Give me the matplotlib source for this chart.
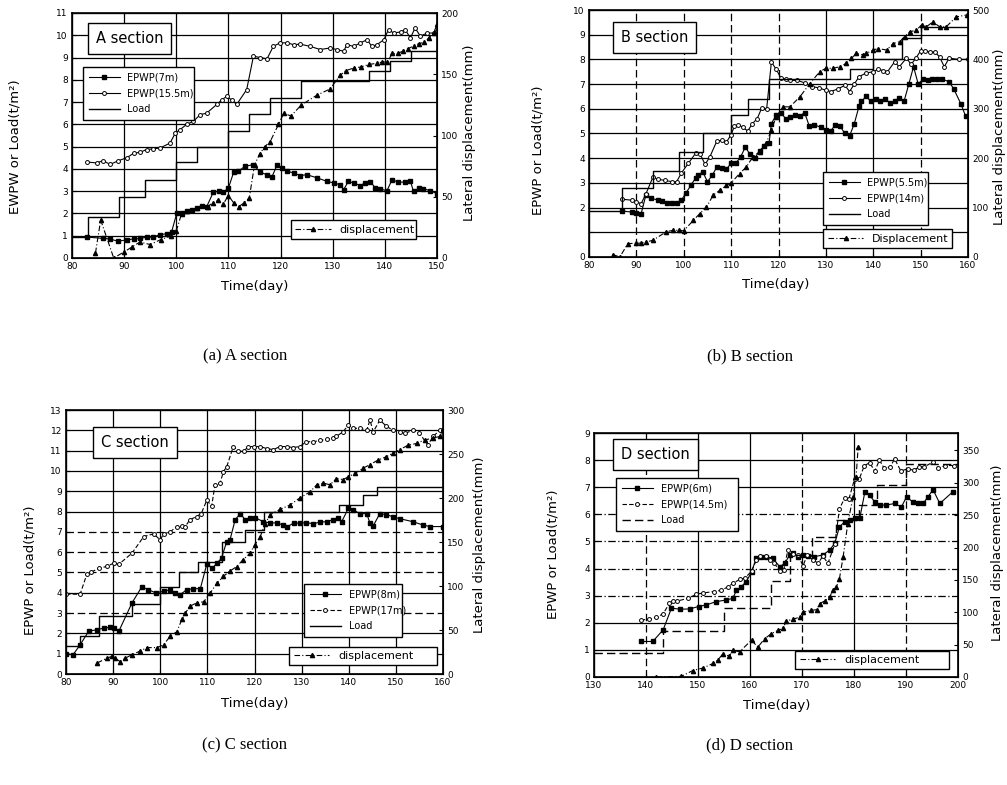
import matplotlib
matplotlib.use('Agg')
import matplotlib.pyplot as plt

plt.rcParams['font.family'] = ['DejaVu Sans']

# ---------------- Panel A ----------------
a_e1_days = [82.8, 86.0, 87.3, 88.9, 90.5, 91.8, 93.1, 94.3, 95.6, 96.9, 98.2, 99.1, 100.1, 101, 102, 103, 103.9,
             104.9, 105.8, 107.1, 108.1, 109, 110, 111, 111.9, 113.2, 114.8, 116.1, 117.4, 118.3, 119.3, 120.2,
             121.2, 122.5, 123.8, 125, 127, 128.9, 130.2, 131.4, 132.1, 133, 134, 135.3, 136.2, 137.2, 138.2,
             139.1, 140.4, 141.4, 142.6, 143.9, 144.9, 145.5, 146.5, 147.4, 148.7, 150]
a_e1_vals = [0.94, 0.88, 0.85, 0.75, 0.82, 0.85, 0.88, 0.93, 0.94, 1.05, 1.09, 1.17, 2.02, 2.02, 2.1, 2.17, 2.25,
             2.35, 2.29, 2.95, 3.0, 2.95, 3.14, 3.85, 3.9, 4.12, 4.19, 3.85, 3.74, 3.62, 4.16, 4.04,
             3.9, 3.82, 3.7, 3.74, 3.6, 3.44, 3.37, 3.29, 3.07, 3.44, 3.37, 3.25, 3.37, 3.43, 3.14,
             3.1, 3.02, 3.52, 3.4, 3.41, 3.44, 2.99, 3.14, 3.11, 3.02, 2.89]
a_e2_days = [82.8, 84.7, 86.0, 87.3, 88.9, 90.5, 91.8, 93.1, 94.3, 95.6, 96.9, 98.8, 99.8, 100.7, 102.0, 103.3,
             104.6, 105.8, 107.8, 108.7, 109.7, 110.6, 111.6, 113.5, 114.8, 116.1, 117.4, 118.6, 119.9, 121.2,
             122.5, 123.8, 125.7, 127.6, 129.5, 130.8, 132.1, 132.7, 134.0, 135.3, 136.6, 137.5, 138.5, 139.8,
             140.7, 141.7, 143.0, 143.9, 144.9, 145.8, 146.8, 148.1, 149.4, 150]
a_e2_vals = [4.31, 4.27, 4.37, 4.2, 4.37, 4.5, 4.7, 4.75, 4.87, 4.9, 4.94, 5.16, 5.6, 5.76, 6.0, 6.14,
             6.44, 6.5, 6.9, 7.1, 7.26, 7.1, 6.9, 7.56, 9.06, 9.0, 8.94, 9.5, 9.66, 9.66,
             9.58, 9.6, 9.5, 9.36, 9.43, 9.36, 9.28, 9.58, 9.5, 9.66, 9.8, 9.5, 9.58, 9.8,
             10.25, 10.1, 10.15, 10.25, 9.88, 10.33, 9.96, 10.1, 10.1, 10.2]
a_load_days = [80, 83, 89, 94, 100, 104, 110, 114, 118, 124, 137, 141, 145, 150]
a_load_vals = [0.95, 1.85, 2.75, 3.5, 4.3, 5.0, 5.7, 6.45, 7.2, 7.95, 8.4, 8.85, 9.3, 9.3]
a_disp_days = [84.5, 85.5, 88, 90, 91.5, 93, 95, 97, 99, 100, 101, 102, 104, 106, 107, 108, 109, 110, 111, 112,
               113, 114, 115, 116, 117, 118, 119.6, 120.6, 122, 124, 127, 129.5, 131.4, 132.5, 134, 135.5, 137,
               138.5, 139.5, 140.5, 141.4, 142.5, 143.5, 144.5, 145.5, 146.5, 147.5, 148.5, 149.4, 150]
a_disp_vals = [4, 31, 0, 5, 9, 13, 11, 15, 18, 22, 36, 38, 41, 42, 45, 47, 44, 51, 45, 42,
               45, 49, 76, 85, 91, 95, 109, 118, 116, 125, 133, 138, 149, 153, 155, 156, 158,
               159, 160, 160, 167, 167, 169, 171, 173, 175, 176, 180, 184, 191]

# ---------------- Panel B ----------------
b_e1_days = [87, 89, 90, 91, 92, 93, 94.5, 95.5, 96.5, 97.5, 98.5, 99.5, 100.5, 101.5, 102.5, 103, 104, 105, 106,
             107, 108, 109, 110, 111, 112, 113, 114, 115, 116, 117, 118, 118.5, 119.5, 120.5, 121.5, 122.5,
             123.5, 124.5, 125.5, 126.5, 127.5, 129, 130, 131, 132, 133, 134, 135, 136, 137, 137.5, 138.5,
             139.5, 140.5, 141.5, 142.5, 143.5, 144.5, 145.5, 146.5, 147.5, 148.5, 149.5, 150.5, 151.5, 152.5,
             153.5, 154.5, 156, 157, 158.5, 159.5]
b_e1_vals = [1.86, 1.82, 1.78, 1.75, 2.5, 2.4, 2.3, 2.25, 2.2, 2.2, 2.18, 2.3, 2.6, 2.9, 3.2, 3.3, 3.45, 3.05, 3.3,
             3.65, 3.6, 3.55, 3.8, 3.8, 4.05, 4.45, 4.15, 4.0, 4.3, 4.5, 4.6, 5.4, 5.75, 5.85, 5.6, 5.65,
             5.75, 5.7, 5.85, 5.3, 5.35, 5.25, 5.15, 5.1, 5.35, 5.3, 5.0, 4.9, 5.4, 6.1, 6.3, 6.5,
             6.3, 6.4, 6.3, 6.4, 6.25, 6.3, 6.45, 6.3, 7.0, 7.7, 7.0, 7.2, 7.15, 7.2,
             7.2, 7.2, 7.1, 6.8, 6.2, 5.7]
b_e2_days = [87, 89, 90, 91, 92, 93.5, 94.5, 96, 97.5, 98.5, 99.5, 101, 102.5, 103.5, 104.5, 105.5, 107, 108, 109,
             110, 110.7, 111.5, 112.5, 113.5, 114.5, 115.5, 116.5, 117.5, 118.5, 119.5, 120.5, 121.5, 122.5,
             124, 125.5, 127, 128.5, 130, 131, 132.5, 134, 135, 136, 137, 138.5, 140, 141, 142, 143, 144.5,
             145.5, 147, 148, 149, 150, 151, 152, 153, 154, 155, 156, 158, 160]
b_e2_vals = [2.34, 2.3, 2.23, 2.16, 2.55, 3.24, 3.15, 3.1, 3.05, 3.05, 3.4, 3.8, 4.2, 4.15, 3.75, 4.05, 4.7, 4.72, 4.65,
             4.95, 5.3, 5.35, 5.25, 5.1, 5.4, 5.6, 6.05, 6.0, 7.9, 7.6, 7.25, 7.2, 7.15,
             7.15, 7.05, 6.9, 6.85, 6.75, 6.7, 6.8, 6.95, 6.7, 7.0, 7.3, 7.45, 7.5, 7.6, 7.55, 7.5, 7.9,
             7.7, 8.05, 7.8, 8.05, 8.35, 8.35, 8.3, 8.3, 8.1, 7.7, 8.05, 8.0, 8.0]
b_load_days = [80, 87, 93.5, 99, 104, 110, 113.5, 118, 135, 140, 146, 150, 160]
b_load_vals = [1.85, 2.8, 3.5, 4.25, 5.0, 5.75, 6.4, 7.2, 7.6, 8.0, 8.85, 9.3, 9.3]
b_disp_days = [85, 86.5, 88.2, 90, 91, 92, 93.5, 96.3, 97.7, 99.1, 100, 102, 103.4, 104.8, 106.2, 107.6, 109, 110,
               111.8, 113.2, 114.6, 116, 117.4, 118.5, 119.5, 121, 122.4, 124.5, 126.6, 128.7, 130, 131.5, 132.9,
               134.3, 135.4, 136.4, 137.8, 138.5, 140, 141, 142.8, 144.2, 145.6, 146.6, 147.7, 149.1, 150.2,
               151.2, 152.6, 154, 155.4, 157.5, 159.7]
b_disp_vals = [5, 0, 27, 28, 28, 30, 34, 51, 54, 54, 53, 74, 88, 101, 125, 135, 145, 150,
               169, 182, 203, 213, 230, 257, 284, 304, 304, 324, 351, 375, 382, 382, 385,
               392, 402, 412, 409, 412, 419, 422, 419, 432, 436, 446, 456, 459, 470,
               466, 476, 466, 466, 486, 490]

# ---------------- Panel C ----------------
c_e1_days = [80, 81.5, 83, 84.8, 86.5, 88, 89.4, 90.2, 91.2, 94, 96.1, 97.5, 99, 100.7, 102.1, 103.1, 104.2, 105.6,
             107, 108.5, 109.9, 111, 112, 113, 114.1, 114.8, 115.9, 117, 118, 119.1, 120.1, 121.9, 123.3, 124.7,
             126.1, 127, 128.3, 129.6, 131, 132.5, 133.9, 135.3, 136.7, 137.8, 138.5, 139.9, 141, 142.4, 143.8,
             144.5, 145.2, 146.6, 148, 149.4, 150.8, 153.6, 155.7, 157.2, 160]
c_e1_vals = [1.0, 0.95, 1.44, 2.1, 2.18, 2.26, 2.3, 2.25, 2.1, 3.5, 4.3, 4.15, 4.0, 4.07, 4.15, 4.0, 3.9, 4.15,
             4.2, 4.2, 5.43, 5.2, 5.45, 5.7, 6.52, 6.6, 7.6, 7.9, 7.6, 7.7, 7.7, 7.5, 7.44, 7.44,
             7.34, 7.26, 7.43, 7.43, 7.45, 7.4, 7.48, 7.5, 7.6, 7.67, 7.5, 8.15, 8.07, 7.9, 7.9,
             7.43, 7.3, 7.9, 7.85, 7.74, 7.65, 7.5, 7.34, 7.26, 7.26]
c_e2_days = [80, 83, 84.4, 85.2, 86.9, 88.7, 90.1, 91.2, 94, 96.5, 98.6, 100, 100.7, 102.1, 103.5, 104.6, 105.3,
             106.3, 107.7, 108.7, 109.9, 110.9, 111.6, 112.7, 113.4, 114.1, 115.5, 116.6, 117.7, 118.7, 119.8,
             121.2, 122.6, 124, 125.4, 126.8, 128.2, 129.6, 131, 132.5, 133.9, 135.3, 136.7, 137.4, 138.8,
             139.9, 141, 142.4, 143.8, 144.5, 145.2, 146.6, 148, 149.4, 150.8, 151.9, 153.6, 155, 156.8, 157.9,
             159.3, 160]
c_e2_vals = [3.93, 3.93, 4.9, 5.0, 5.2, 5.3, 5.46, 5.4, 5.95, 6.77, 6.9, 6.6, 6.9, 7.0, 7.26, 7.3, 7.26,
             7.6, 7.75, 7.9, 8.57, 8.25, 9.3, 9.4, 9.97, 10.2, 11.2, 10.97, 10.97, 11.2, 11.2,
             11.2, 11.1, 11.05, 11.2, 11.2, 11.15, 11.2, 11.44, 11.44, 11.5, 11.55, 11.6, 11.7, 11.93,
             12.26, 12.1, 12.1, 12.0, 12.5, 11.93, 12.5, 12.2, 12.0, 11.93, 11.85, 12.0, 11.85, 11.28, 11.7,
             12.0, 12.0]
c_load_days = [80, 83, 87, 94, 100, 104, 108, 113, 118, 122, 138, 143, 146, 160]
c_load_vals = [1.36, 1.85, 2.84, 3.44, 4.26, 5.0, 5.5, 6.5, 7.1, 8.0, 8.33, 8.82, 9.23, 9.23]
c_disp_days = [86.6, 88.7, 89.7, 90.4, 91.5, 92.6, 94, 95.7, 97.2, 99.3, 100.7, 102.1, 103.5, 104.6, 105.3, 106.3,
               107.8, 109.2, 110.6, 112, 113.4, 114.8, 116.2, 117.6, 119, 120.1, 121.2, 122.2, 123.3, 125.4,
               127.5, 129.6, 131.8, 133.2, 134.6, 136, 137.4, 138.8, 139.9, 141.3, 143.1, 144.5, 146.2, 148,
               149.4, 150.8, 152.6, 154.4, 156.1, 157.9, 159.3, 160]
c_disp_vals = [12.5, 18, 20, 18, 14, 18, 22, 26, 30, 30, 33, 43, 48, 62, 69, 77,
               81, 82, 92, 103, 111, 117, 122, 130, 137, 147, 156, 170, 181, 187,
               192, 200, 207, 215, 217, 215, 222, 221, 224, 228, 234, 238, 243, 247,
               251, 255, 260, 262, 266, 268, 270, 277]

# ---------------- Panel D ----------------
d_e1_days = [139.1, 141.3, 143.3, 144.9, 146.5, 148.4, 150.1, 151.6, 153.5, 155.4, 156.7, 157.4, 158.3, 159.3,
             160.3, 161.2, 162.2, 163.1, 164.4, 165.7, 166.7, 167.6, 168.3, 169.2, 170.2, 171.2, 172.4, 174,
             175.3, 176.3, 177.2, 178.2, 179.2, 180.1, 181.1, 182.1, 183, 184, 185, 186.2, 187.8, 189.1,
             190.1, 191.3, 192.3, 193.3, 194.2, 195.2, 196.5, 199]
d_e1_vals = [1.31, 1.31, 1.74, 2.54, 2.5, 2.51, 2.6, 2.66, 2.78, 2.84, 2.9, 3.2, 3.33, 3.52,
             3.88, 4.38, 4.44, 4.44, 4.38, 4.07, 4.19, 4.5, 4.56, 4.44, 4.5, 4.47, 4.44, 4.5,
             4.68, 4.93, 5.54, 5.72, 5.78, 5.85, 5.85, 6.83, 6.7, 6.46, 6.34, 6.34, 6.4, 6.27,
             6.64, 6.46, 6.4, 6.4, 6.64, 6.91, 6.4, 6.83]
d_e2_days = [139, 140.5, 142, 143.3, 144.5, 145.2, 146, 148, 149.7, 151, 153, 154.5, 155.8, 156.7, 158, 159, 160.3,
             161.2, 162, 163, 163.8, 164.7, 165.7, 166.5, 167.3, 168.3, 169.2, 170.2, 171, 172.2, 173.1, 174, 175,
             176.3, 177.2, 178.2, 179, 180.1, 181, 182, 183, 184, 184.9, 185.8, 187, 187.8, 189, 190.4, 191.5,
             192.5, 193.5, 195.2, 196.2, 197.5, 199.3]
d_e2_vals = [2.1, 2.13, 2.2, 2.33, 2.72, 2.8, 2.8, 2.9, 3.05, 3.1, 3.15, 3.2, 3.33, 3.45, 3.6, 3.65, 3.9,
             4.3, 4.45, 4.45, 4.3, 4.2, 3.9, 3.95, 4.7, 4.55, 4.5, 4.1, 4.5, 4.3, 4.2, 4.45, 4.2,
             4.9, 6.2, 6.6, 6.55, 7.3, 7.3, 7.8, 7.9, 7.6, 8.0, 7.7, 7.75, 8.05, 7.6, 7.68, 7.62,
             7.75, 7.75, 7.93, 7.7, 7.8, 7.8]
d_load_days = [130, 143.3, 155, 164, 167.6, 172, 176.5, 181, 184.5, 190, 200]
d_load_vals = [0.88, 1.68, 2.55, 3.55, 4.5, 5.15, 5.8, 6.35, 7.1, 7.87, 7.87]
d_disp_days = [142, 146.8, 149, 151, 152.9, 153.8, 154.8, 156, 156.7, 158, 160.3, 161.5, 162.8, 164.1, 165.4,
               166.3, 167, 168.3, 169.6, 170.2, 171.8, 172.8, 173.4, 174.4, 175.3, 176, 176.6, 177.2, 177.9,
               178.8, 179.8, 180.4, 180.8]
d_disp_vals = [0, 1, 10, 14, 21, 26, 36, 32, 41, 39, 57, 46, 59, 67, 72,
               75, 87, 89, 93, 100, 103, 104, 113, 118, 124, 134, 139, 152, 185,
               237, 278, 309, 355]

FIG_W, FIG_H = 1007, 785
fig = plt.figure(figsize=(FIG_W / 100, FIG_H / 100), dpi=100)


def rect(l, t, r, b):
    return [l / FIG_W, 1 - b / FIG_H, (r - l) / FIG_W, (b - t) / FIG_H]


def ftext(x, y, s, **kw):
    fig.text(x / FIG_W, 1 - y / FIG_H, s, **kw)


DISP_LS = (0, (5, 2, 1, 2))


def panel(box, xlim, xticks, ylim, yticks, ylabels, y2lim, y2ticks,
          e1, e2, load, disp, names, title, title_pos, leg_box, dleg_box,
          e2_ls='-', load_ls='-', vgrid_ls=None, hgrid_ls=None):
    ax = fig.add_axes(rect(*box))
    ax.set_xlim(*xlim)
    ax.set_ylim(*ylim)
    ax.set_xticks(xticks)
    ax.set_yticks(yticks)
    ax.set_yticklabels(ylabels)
    ax.grid(True, color='k', lw=0.9)
    if vgrid_ls:
        for gl, ls in zip(ax.get_xgridlines(), vgrid_ls):
            gl.set_linestyle(ls)
    if hgrid_ls:
        for gl, ls in zip(ax.get_ygridlines(), hgrid_ls):
            gl.set_linestyle(ls)
    ax.tick_params(direction='in', length=3, labelsize=6.5, width=0.8, pad=3)
    for sp in ax.spines.values():
        sp.set_linewidth(1.2)
    h1, = ax.plot(e1[0], e1[1], '-', color='k', lw=0.8, marker='s', ms=2.6, label=names[0])
    h2, = ax.plot(e2[0], e2[1], linestyle=e2_ls, color='k', lw=0.8, marker='o', ms=2.8,
                  mfc='white', mew=0.7, label=names[1])
    h3, = ax.plot(load[0], load[1], linestyle=load_ls, color='k', lw=1.0,
                  drawstyle='steps-post', label='Load')
    ax2 = ax.twinx()
    ax2.set_ylim(*y2lim)
    ax2.set_yticks(y2ticks)
    ax2.tick_params(direction='in', length=3, labelsize=6.5, width=0.8, pad=3)
    h4, = ax2.plot(disp[0], disp[1], linestyle=DISP_LS, color='k', lw=0.8, marker='^',
                   ms=3, label='displacement' if names[2] is None else names[2])
    leg = ax2.legend([h1, h2, h3], [names[0], names[1], 'Load'], loc='upper left',
                     bbox_to_anchor=leg_box, mode='expand', fontsize=7, frameon=True,
                     fancybox=False, edgecolor='k', framealpha=1, handlelength=3.2,
                     borderpad=0.6, labelspacing=0.6)
    leg.get_frame().set_linewidth(1.0)
    ax2.add_artist(leg)
    leg2 = ax2.legend([h4], [h4.get_label()], loc='upper left', bbox_to_anchor=dleg_box,
                      mode='expand', fontsize=8, frameon=True, fancybox=False, edgecolor='k',
                      framealpha=1, handlelength=3.2, borderpad=0.4)
    leg2.get_frame().set_linewidth(1.0)
    ax2.text(title_pos[0], title_pos[1], title, transform=ax.transAxes, ha='center', va='center',
             fontsize=10.5, bbox=dict(boxstyle='square,pad=0.55', fc='white', ec='k', lw=1.0))
    return ax, ax2


# Panel A
panel((72, 13, 437, 258), (80, 150), list(range(80, 151, 10)), (0, 11), list(range(0, 12)),
      [str(v) for v in range(0, 12)], (0, 200), [0, 50, 100, 150, 200],
      (a_e1_days, a_e1_vals), (a_e2_days, a_e2_vals), (a_load_days, a_load_vals),
      (a_disp_days, a_disp_vals), ('EPWP(7m)', 'EPWP(15.5m)', 'displacement'),
      'A section', (0.157, 0.896), (0.016, 0.596, 0.332, 0.204), (0.584, 0.10, 0.375, 0.076))
ftext(15, 147, 'EWPW or Load(t/m²)', rotation=90, ha='center', va='center', fontsize=9.5)
ftext(470, 133, 'Lateral displacement(mm)', rotation=90, ha='center', va='center', fontsize=9.5)
ftext(255, 287, 'Time(day)', ha='center', va='center', fontsize=9.5)

# Panel B
b_lbl = [str(v) for v in range(0, 11)]
b_lbl[1] = ''
panel((589, 10, 968, 257), (80, 160), list(range(80, 161, 10)), (0, 10), list(range(0, 11)),
      b_lbl, (0, 500), [0, 100, 200, 300, 400, 500],
      (b_e1_days, b_e1_vals), (b_e2_days, b_e2_vals), (b_load_days, b_load_vals),
      (b_disp_days, b_disp_vals), ('EPWP(5.5m)', 'EPWP(14m)', 'Displacement'),
      'B section', (0.173, 0.887), (0.604, 0.162, 0.303, 0.202), (0.604, 0.061, 0.369, 0.073),
      vgrid_ls=['-', (0, (6, 3)), (0, (6, 3)), (0, (6, 3)), (0, (6, 3)), '-', '-', (0, (6, 3)), '-'])
ftext(538, 150, 'EPWP or Load(t/m²)', rotation=90, ha='center', va='center', fontsize=9.5)
ftext(1000, 137, 'Lateral displacement(mm)', rotation=90, ha='center', va='center', fontsize=9.5)
ftext(776, 285, 'Time(day)', ha='center', va='center', fontsize=9.5)

# Panel C
panel((66, 410, 443, 674), (80, 160), list(range(80, 161, 10)), (0, 13), list(range(0, 14)),
      [str(v) for v in range(0, 14)], (0, 300), [0, 50, 100, 150, 200, 250, 300],
      (c_e1_days, c_e1_vals), (c_e2_days, c_e2_vals), (c_load_days, c_load_vals),
      (c_disp_days, c_disp_vals), ('EPWP(8m)', 'EPWP(17m)', 'displacement'),
      'C section', (0.184, 0.877), (0.618, 0.155, 0.286, 0.205), (0.578, 0.045, 0.42, 0.08),
      e2_ls=(0, (4, 2)),
      hgrid_ls=['-', '-', '-', (0, (6, 3)), '-', (0, (6, 3)), (0, (6, 3)), (0, (6, 3)), '-', '-', '-', '-', '-', '-'])
ftext(30, 570, 'EPWP or Load(t/m²)', rotation=90, ha='center', va='center', fontsize=9.5)
ftext(480, 545, 'Lateral displacement(mm)', rotation=90, ha='center', va='center', fontsize=9.5)
ftext(255, 703, 'Time(day)', ha='center', va='center', fontsize=9.5)

# Panel D
panel((594, 433, 958, 677), (130, 200), list(range(130, 201, 10)), (0, 9), list(range(0, 10)),
      [str(v) for v in range(0, 10)], (0, 377), [0, 50, 100, 150, 200, 250, 300, 350],
      (d_e1_days, d_e1_vals), (d_e2_days, d_e2_vals), (d_load_days, d_load_vals),
      (d_disp_days, d_disp_vals), ('EPWP(6m)', 'EPWP(14.5m)', 'displacement'),
      'D section', (0.168, 0.910), (0.047, 0.619, 0.363, 0.217), (0.538, 0.049, 0.453, 0.082),
      e2_ls=(0, (4, 2)), load_ls=(0, (6, 3)),
      vgrid_ls=['-', (0, (6, 3)), '-', '-', (0, (6, 3)), '-', (0, (6, 3)), '-'],
      hgrid_ls=['-', '-', '-', (0, (6, 2, 1, 2)), (0, (6, 2, 1, 2)), (0, (6, 2, 1, 2)),
                (0, (6, 2, 1, 2)), '-', '-', '-'])
ftext(553, 554, 'EPWP or Load(t/m²)', rotation=90, ha='center', va='center', fontsize=9.5)
ftext(997, 553, 'Lateral displacement(mm)', rotation=90, ha='center', va='center', fontsize=9.5)
ftext(777, 705, 'Time(day)', ha='center', va='center', fontsize=9.5)

# Captions
for (cx, cy, s) in [(245, 356, '(a) A section'), (750, 356, '(b) B section'),
                    (245, 745, '(c) C section'), (750, 745, '(d) D section')]:
    ftext(cx, cy, s, ha='center', va='center', fontsize=12, family='Liberation Serif')

fig.savefig('out.png', dpi=100)
